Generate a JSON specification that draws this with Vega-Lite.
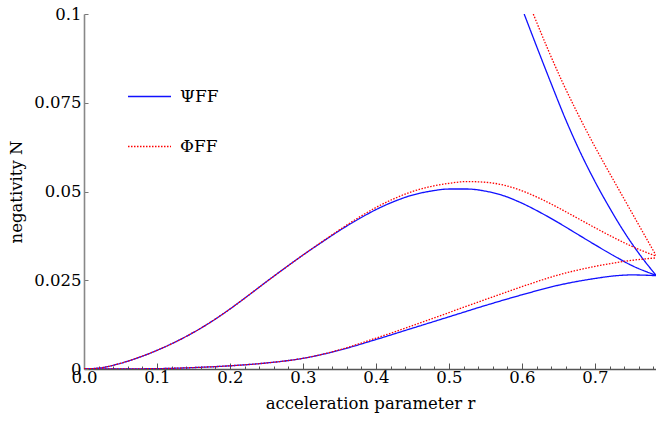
{
  "$schema": "https://vega.github.io/schema/vega-lite/v6.json",
  "width": 572,
  "height": 355,
  "autosize": {"type": "none"},
  "padding": {"left": 84, "top": 14, "right": 0, "bottom": 55},
  "background": "white",
  "config": {
    "view": {"stroke": null},
    "font": "DejaVu Serif",
    "axis": {"labelFont": "DejaVu Serif", "titleFont": "DejaVu Serif", "labelFontSize": 16.5, "titleFontSize": 16.5, "titleFontWeight": "normal", "labelColor": "black", "titleColor": "black", "grid": false},
    "legend": {"labelFont": "DejaVu Serif"}
  },
  "datasets": {
    "curves": [
      {"series": "ΨFF", "branch": "hump", "r": 0, "N": 0},
      {"series": "ΨFF", "branch": "hump", "r": 0.025, "N": 0.0004},
      {"series": "ΨFF", "branch": "hump", "r": 0.05, "N": 0.0016},
      {"series": "ΨFF", "branch": "hump", "r": 0.075, "N": 0.00325},
      {"series": "ΨFF", "branch": "hump", "r": 0.1, "N": 0.00525},
      {"series": "ΨFF", "branch": "hump", "r": 0.125, "N": 0.0076},
      {"series": "ΨFF", "branch": "hump", "r": 0.15, "N": 0.0103},
      {"series": "ΨFF", "branch": "hump", "r": 0.175, "N": 0.0134},
      {"series": "ΨFF", "branch": "hump", "r": 0.2, "N": 0.0169},
      {"series": "ΨFF", "branch": "hump", "r": 0.225, "N": 0.0207},
      {"series": "ΨFF", "branch": "hump", "r": 0.25, "N": 0.0246},
      {"series": "ΨFF", "branch": "hump", "r": 0.275, "N": 0.0284},
      {"series": "ΨFF", "branch": "hump", "r": 0.3, "N": 0.0321},
      {"series": "ΨFF", "branch": "hump", "r": 0.325, "N": 0.0356},
      {"series": "ΨFF", "branch": "hump", "r": 0.35, "N": 0.0390},
      {"series": "ΨFF", "branch": "hump", "r": 0.375, "N": 0.0421},
      {"series": "ΨFF", "branch": "hump", "r": 0.4, "N": 0.0449},
      {"series": "ΨFF", "branch": "hump", "r": 0.425, "N": 0.0472},
      {"series": "ΨFF", "branch": "hump", "r": 0.45, "N": 0.0490},
      {"series": "ΨFF", "branch": "hump", "r": 0.475, "N": 0.0501},
      {"series": "ΨFF", "branch": "hump", "r": 0.5, "N": 0.0507},
      {"series": "ΨFF", "branch": "hump", "r": 0.525, "N": 0.0507},
      {"series": "ΨFF", "branch": "hump", "r": 0.55, "N": 0.0501},
      {"series": "ΨFF", "branch": "hump", "r": 0.575, "N": 0.0488},
      {"series": "ΨFF", "branch": "hump", "r": 0.6, "N": 0.0467},
      {"series": "ΨFF", "branch": "hump", "r": 0.625, "N": 0.0441},
      {"series": "ΨFF", "branch": "hump", "r": 0.65, "N": 0.0412},
      {"series": "ΨFF", "branch": "hump", "r": 0.675, "N": 0.0381},
      {"series": "ΨFF", "branch": "hump", "r": 0.7, "N": 0.0350},
      {"series": "ΨFF", "branch": "hump", "r": 0.725, "N": 0.0320},
      {"series": "ΨFF", "branch": "hump", "r": 0.75, "N": 0.0292},
      {"series": "ΨFF", "branch": "hump", "r": 0.7836, "N": 0.0264},
      {"series": "ΨFF", "branch": "lower", "r": 0, "N": 0},
      {"series": "ΨFF", "branch": "lower", "r": 0.05, "N": 0.00003},
      {"series": "ΨFF", "branch": "lower", "r": 0.1, "N": 0.0001},
      {"series": "ΨFF", "branch": "lower", "r": 0.15, "N": 0.0004},
      {"series": "ΨFF", "branch": "lower", "r": 0.2, "N": 0.0009},
      {"series": "ΨFF", "branch": "lower", "r": 0.25, "N": 0.0017},
      {"series": "ΨFF", "branch": "lower", "r": 0.3, "N": 0.0030},
      {"series": "ΨFF", "branch": "lower", "r": 0.35, "N": 0.0053},
      {"series": "ΨFF", "branch": "lower", "r": 0.4, "N": 0.0083},
      {"series": "ΨFF", "branch": "lower", "r": 0.45, "N": 0.0115},
      {"series": "ΨFF", "branch": "lower", "r": 0.5, "N": 0.0147},
      {"series": "ΨFF", "branch": "lower", "r": 0.55, "N": 0.0179},
      {"series": "ΨFF", "branch": "lower", "r": 0.6, "N": 0.0209},
      {"series": "ΨFF", "branch": "lower", "r": 0.65, "N": 0.0236},
      {"series": "ΨFF", "branch": "lower", "r": 0.7, "N": 0.0255},
      {"series": "ΨFF", "branch": "lower", "r": 0.725, "N": 0.0262},
      {"series": "ΨFF", "branch": "lower", "r": 0.75, "N": 0.0265},
      {"series": "ΨFF", "branch": "lower", "r": 0.7836, "N": 0.0263},
      {"series": "ΨFF", "branch": "upper", "r": 0.603, "N": 0.1},
      {"series": "ΨFF", "branch": "upper", "r": 0.62, "N": 0.0909},
      {"series": "ΨFF", "branch": "upper", "r": 0.64, "N": 0.0804},
      {"series": "ΨFF", "branch": "upper", "r": 0.66, "N": 0.0702},
      {"series": "ΨFF", "branch": "upper", "r": 0.68, "N": 0.0610},
      {"series": "ΨFF", "branch": "upper", "r": 0.7, "N": 0.0528},
      {"series": "ΨFF", "branch": "upper", "r": 0.72, "N": 0.0454},
      {"series": "ΨFF", "branch": "upper", "r": 0.74, "N": 0.0386},
      {"series": "ΨFF", "branch": "upper", "r": 0.76, "N": 0.0326},
      {"series": "ΨFF", "branch": "upper", "r": 0.7836, "N": 0.0264},
      {"series": "ΦFF", "branch": "hump", "r": 0, "N": 0},
      {"series": "ΦFF", "branch": "hump", "r": 0.025, "N": 0.0004},
      {"series": "ΦFF", "branch": "hump", "r": 0.05, "N": 0.0016},
      {"series": "ΦFF", "branch": "hump", "r": 0.075, "N": 0.00325},
      {"series": "ΦFF", "branch": "hump", "r": 0.1, "N": 0.00525},
      {"series": "ΦFF", "branch": "hump", "r": 0.125, "N": 0.0076},
      {"series": "ΦFF", "branch": "hump", "r": 0.15, "N": 0.0103},
      {"series": "ΦFF", "branch": "hump", "r": 0.175, "N": 0.0134},
      {"series": "ΦFF", "branch": "hump", "r": 0.2, "N": 0.0169},
      {"series": "ΦFF", "branch": "hump", "r": 0.225, "N": 0.0207},
      {"series": "ΦFF", "branch": "hump", "r": 0.25, "N": 0.0246},
      {"series": "ΦFF", "branch": "hump", "r": 0.275, "N": 0.0284},
      {"series": "ΦFF", "branch": "hump", "r": 0.3, "N": 0.0321},
      {"series": "ΦFF", "branch": "hump", "r": 0.325, "N": 0.0357},
      {"series": "ΦFF", "branch": "hump", "r": 0.35, "N": 0.0392},
      {"series": "ΦFF", "branch": "hump", "r": 0.375, "N": 0.0425},
      {"series": "ΦFF", "branch": "hump", "r": 0.4, "N": 0.0455},
      {"series": "ΦFF", "branch": "hump", "r": 0.425, "N": 0.0480},
      {"series": "ΦFF", "branch": "hump", "r": 0.45, "N": 0.0500},
      {"series": "ΦFF", "branch": "hump", "r": 0.475, "N": 0.0514},
      {"series": "ΦFF", "branch": "hump", "r": 0.5, "N": 0.0523},
      {"series": "ΦFF", "branch": "hump", "r": 0.525, "N": 0.0528},
      {"series": "ΦFF", "branch": "hump", "r": 0.55, "N": 0.0526},
      {"series": "ΦFF", "branch": "hump", "r": 0.575, "N": 0.0518},
      {"series": "ΦFF", "branch": "hump", "r": 0.6, "N": 0.0502},
      {"series": "ΦFF", "branch": "hump", "r": 0.625, "N": 0.0480},
      {"series": "ΦFF", "branch": "hump", "r": 0.65, "N": 0.0454},
      {"series": "ΦFF", "branch": "hump", "r": 0.675, "N": 0.0426},
      {"series": "ΦFF", "branch": "hump", "r": 0.7, "N": 0.0398},
      {"series": "ΦFF", "branch": "hump", "r": 0.725, "N": 0.0371},
      {"series": "ΦFF", "branch": "hump", "r": 0.75, "N": 0.0346},
      {"series": "ΦFF", "branch": "hump", "r": 0.7836, "N": 0.0318},
      {"series": "ΦFF", "branch": "lower", "r": 0, "N": 0},
      {"series": "ΦFF", "branch": "lower", "r": 0.05, "N": 0.00003},
      {"series": "ΦFF", "branch": "lower", "r": 0.1, "N": 0.0001},
      {"series": "ΦFF", "branch": "lower", "r": 0.15, "N": 0.0004},
      {"series": "ΦFF", "branch": "lower", "r": 0.2, "N": 0.0009},
      {"series": "ΦFF", "branch": "lower", "r": 0.25, "N": 0.0017},
      {"series": "ΦFF", "branch": "lower", "r": 0.3, "N": 0.0030},
      {"series": "ΦFF", "branch": "lower", "r": 0.35, "N": 0.0054},
      {"series": "ΦFF", "branch": "lower", "r": 0.4, "N": 0.0087},
      {"series": "ΦFF", "branch": "lower", "r": 0.45, "N": 0.0122},
      {"series": "ΦFF", "branch": "lower", "r": 0.5, "N": 0.0159},
      {"series": "ΦFF", "branch": "lower", "r": 0.55, "N": 0.0196},
      {"series": "ΦFF", "branch": "lower", "r": 0.6, "N": 0.0232},
      {"series": "ΦFF", "branch": "lower", "r": 0.65, "N": 0.0265},
      {"series": "ΦFF", "branch": "lower", "r": 0.7, "N": 0.0289},
      {"series": "ΦFF", "branch": "lower", "r": 0.75, "N": 0.0306},
      {"series": "ΦFF", "branch": "lower", "r": 0.7836, "N": 0.0313},
      {"series": "ΦFF", "branch": "upper", "r": 0.6155, "N": 0.1},
      {"series": "ΦFF", "branch": "upper", "r": 0.635, "N": 0.0903},
      {"series": "ΦFF", "branch": "upper", "r": 0.655, "N": 0.0810},
      {"series": "ΦFF", "branch": "upper", "r": 0.675, "N": 0.0725},
      {"series": "ΦFF", "branch": "upper", "r": 0.695, "N": 0.0645},
      {"series": "ΦFF", "branch": "upper", "r": 0.715, "N": 0.0570},
      {"series": "ΦFF", "branch": "upper", "r": 0.735, "N": 0.0497},
      {"series": "ΦFF", "branch": "upper", "r": 0.755, "N": 0.0424},
      {"series": "ΦFF", "branch": "upper", "r": 0.7836, "N": 0.0320}
    ]
  },
  "data": {"name": "curves"},
  "mark": {"type": "line", "strokeWidth": 1.3, "clip": true, "interpolate": "monotone"},
  "encoding": {
    "x": {
      "field": "r", "type": "quantitative",
      "scale": {"domain": [0, 0.7836], "nice": false, "zero": false},
      "axis": {
        "title": "acceleration parameter r",
        "titleFont": "DejaVu Serif",
        "titleFontSize": 16.5,
        "labelFont": "DejaVu Serif",
        "labelFontSize": 16.5,
        "values": [0, 0.02, 0.04, 0.06, 0.08, 0.1, 0.12, 0.14, 0.16, 0.18, 0.2, 0.22, 0.24, 0.26, 0.28, 0.3, 0.32, 0.34, 0.36, 0.38, 0.4, 0.42, 0.44, 0.46, 0.48, 0.5, 0.52, 0.54, 0.56, 0.58, 0.6, 0.62, 0.64, 0.66, 0.68, 0.7, 0.72, 0.74, 0.76, 0.78],
        "labelExpr": "abs(datum.value*10 - round(datum.value*10)) < 0.001 ? format(datum.value, '.1f') : ''",
        "labelFlush": false,
        "labelOverlap": false,
        "labelPadding": 6,
        "tickSize": {"condition": {"test": "abs(datum.value*10 - round(datum.value*10)) < 0.001", "value": -6}, "value": -3},
        "tickColor": "#555",
        "domainColor": "#555",
        "domainWidth": 1.3,
        "titlePadding": 7
      }
    },
    "y": {
      "field": "N", "type": "quantitative",
      "scale": {"domain": [0, 0.1], "nice": false},
      "axis": {
        "title": "negativity N",
        "titleFont": "DejaVu Serif",
        "titleFontSize": 16.5,
        "labelFont": "DejaVu Serif",
        "labelFontSize": 16.5,
        "values": [0, 0.025, 0.05, 0.075, 0.1],
        "labelExpr": "'' + datum.value",
        "labelPadding": 7,
        "tickSize": -4,
        "tickColor": "#777",
        "domainColor": "#888",
        "domainWidth": 1.6,
        "titlePadding": 9
      }
    },
    "color": {
      "field": "series", "type": "nominal",
      "scale": {"domain": ["ΨFF", "ΦFF"], "range": ["#1010ff", "#ff0000"]},
      "legend": {"orient": "none", "legendX": 43, "legendY": 60, "title": null, "symbolType": "stroke", "symbolSize": 1849, "symbolStrokeWidth": 1.3, "labelFont": "DejaVu Serif", "labelFontSize": 17, "labelColor": "black", "rowPadding": 19, "labelOffset": 8, "padding": 0}
    },
    "strokeDash": {
      "field": "series", "type": "nominal",
      "scale": {"domain": ["ΨFF", "ΦFF"], "range": [[1, 0], [1.5, 1.5]]},
      "legend": {"orient": "none", "legendX": 43, "legendY": 60, "title": null, "symbolType": "stroke", "symbolSize": 1849, "symbolStrokeWidth": 1.3, "labelFont": "DejaVu Serif", "labelFontSize": 17, "labelColor": "black", "rowPadding": 19, "labelOffset": 8, "padding": 0}
    },
    "detail": {"field": "branch", "type": "nominal"}
  }
}
